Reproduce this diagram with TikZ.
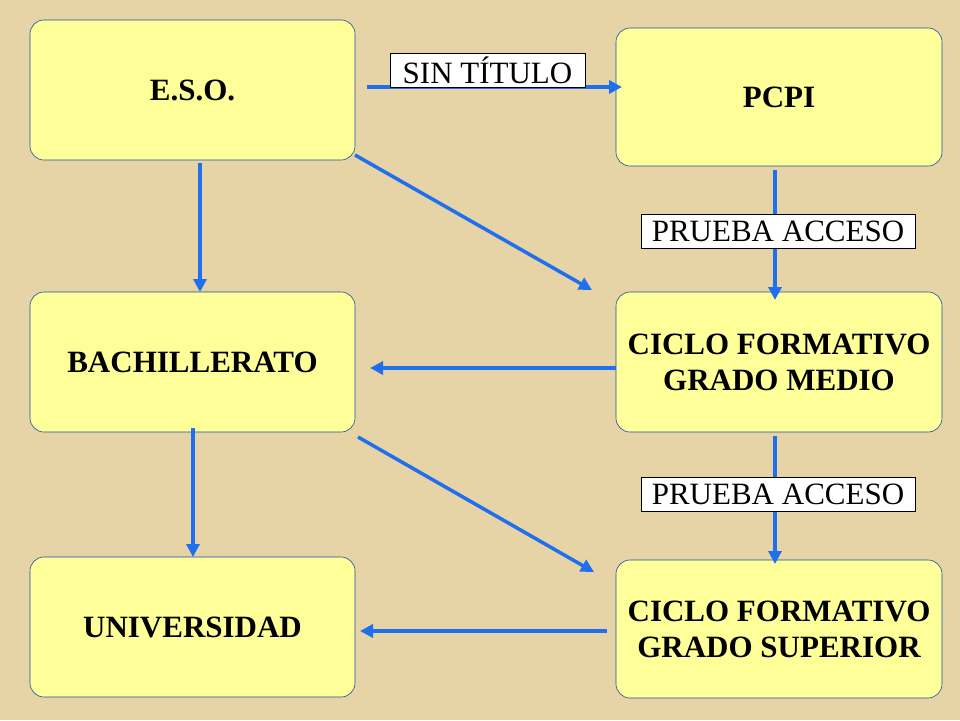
\documentclass[tikz,border=0pt]{standalone}
\usepackage{fontspec}
\setmainfont{Liberation Serif}
\usetikzlibrary{arrows.meta}
\definecolor{bg}{HTML}{E6D3A6}
\definecolor{boxfill}{HTML}{FFFF99}
\definecolor{arr}{HTML}{1F6FEF}
\tikzset{
 x=1pt,y=-1pt,
 box/.style={draw=arr!70!black,line width=0.6pt,fill=boxfill,rounded corners=14pt,minimum width=325pt,align=center,font=\bfseries\fontsize{31}{36}\selectfont,inner sep=0pt},
 lab/.style={draw=black,line width=0.6pt,fill=white,font=\fontsize{31}{32}\selectfont,inner sep=2pt,minimum height=34pt},
 ar/.style={draw=arr,line width=3.5pt,-{Triangle[length=13pt,width=13pt]}}
}
\begin{document}
\begin{tikzpicture}
\fill[bg] (0,0) rectangle (960,720);
\useasboundingbox (0,0) rectangle (960,720);
\node[box,minimum height=140pt] (eso) at (192.5,90) {E.S.O.};
\node[box,minimum height=138pt,minimum width=326pt] (pcpi) at (779,97) {PCPI};
\node[box,minimum height=140pt] (bach) at (192.5,362) {BACHILLERATO};
\node[box,minimum height=140pt,minimum width=326pt] (cfgm) at (779,362) {CICLO FORMATIVO\\GRADO MEDIO};
\node[box,minimum height=140pt] (univ) at (192.5,627) {UNIVERSIDAD};
\node[box,minimum height=138pt,minimum width=326pt] (cfgs) at (779,629) {CICLO FORMATIVO\\GRADO SUPERIOR};
\coordinate (a1) at (367,87); \coordinate (a2) at (622,87);
\coordinate (b1) at (355,155); \coordinate (b2) at (592,290);
\coordinate (c1) at (200,163); \coordinate (c2) at (200,292);
\coordinate (d1) at (775,170); \coordinate (d2) at (775,300);
\coordinate (e1) at (616,368); \coordinate (e2) at (370,368);
\coordinate (f1) at (193,428); \coordinate (f2) at (193,557);
\coordinate (g1) at (358,437); \coordinate (g2) at (594,572);
\coordinate (h1) at (775,436); \coordinate (h2) at (775,564);
\coordinate (i1) at (607,631); \coordinate (i2) at (360,631);
\draw[ar] (a1) -- (a2);
\draw[ar] (b1) -- (b2);
\draw[ar] (c1) -- (c2);
\draw[ar] (d1) -- (d2);
\draw[ar] (e1) -- (e2);
\draw[ar] (f1) -- (f2);
\draw[ar] (g1) -- (g2);
\draw[ar] (h1) -- (h2);
\draw[ar] (i1) -- (i2);
\node[lab,minimum width=195pt] (l1) at (487.5,70) {SIN TÍTULO};
\node[lab,minimum width=274pt] (l2) at (778,231) {PRUEBA ACCESO};
\node[lab,minimum width=274pt] (l3) at (778,494) {PRUEBA ACCESO};
\end{tikzpicture}
\end{document}
